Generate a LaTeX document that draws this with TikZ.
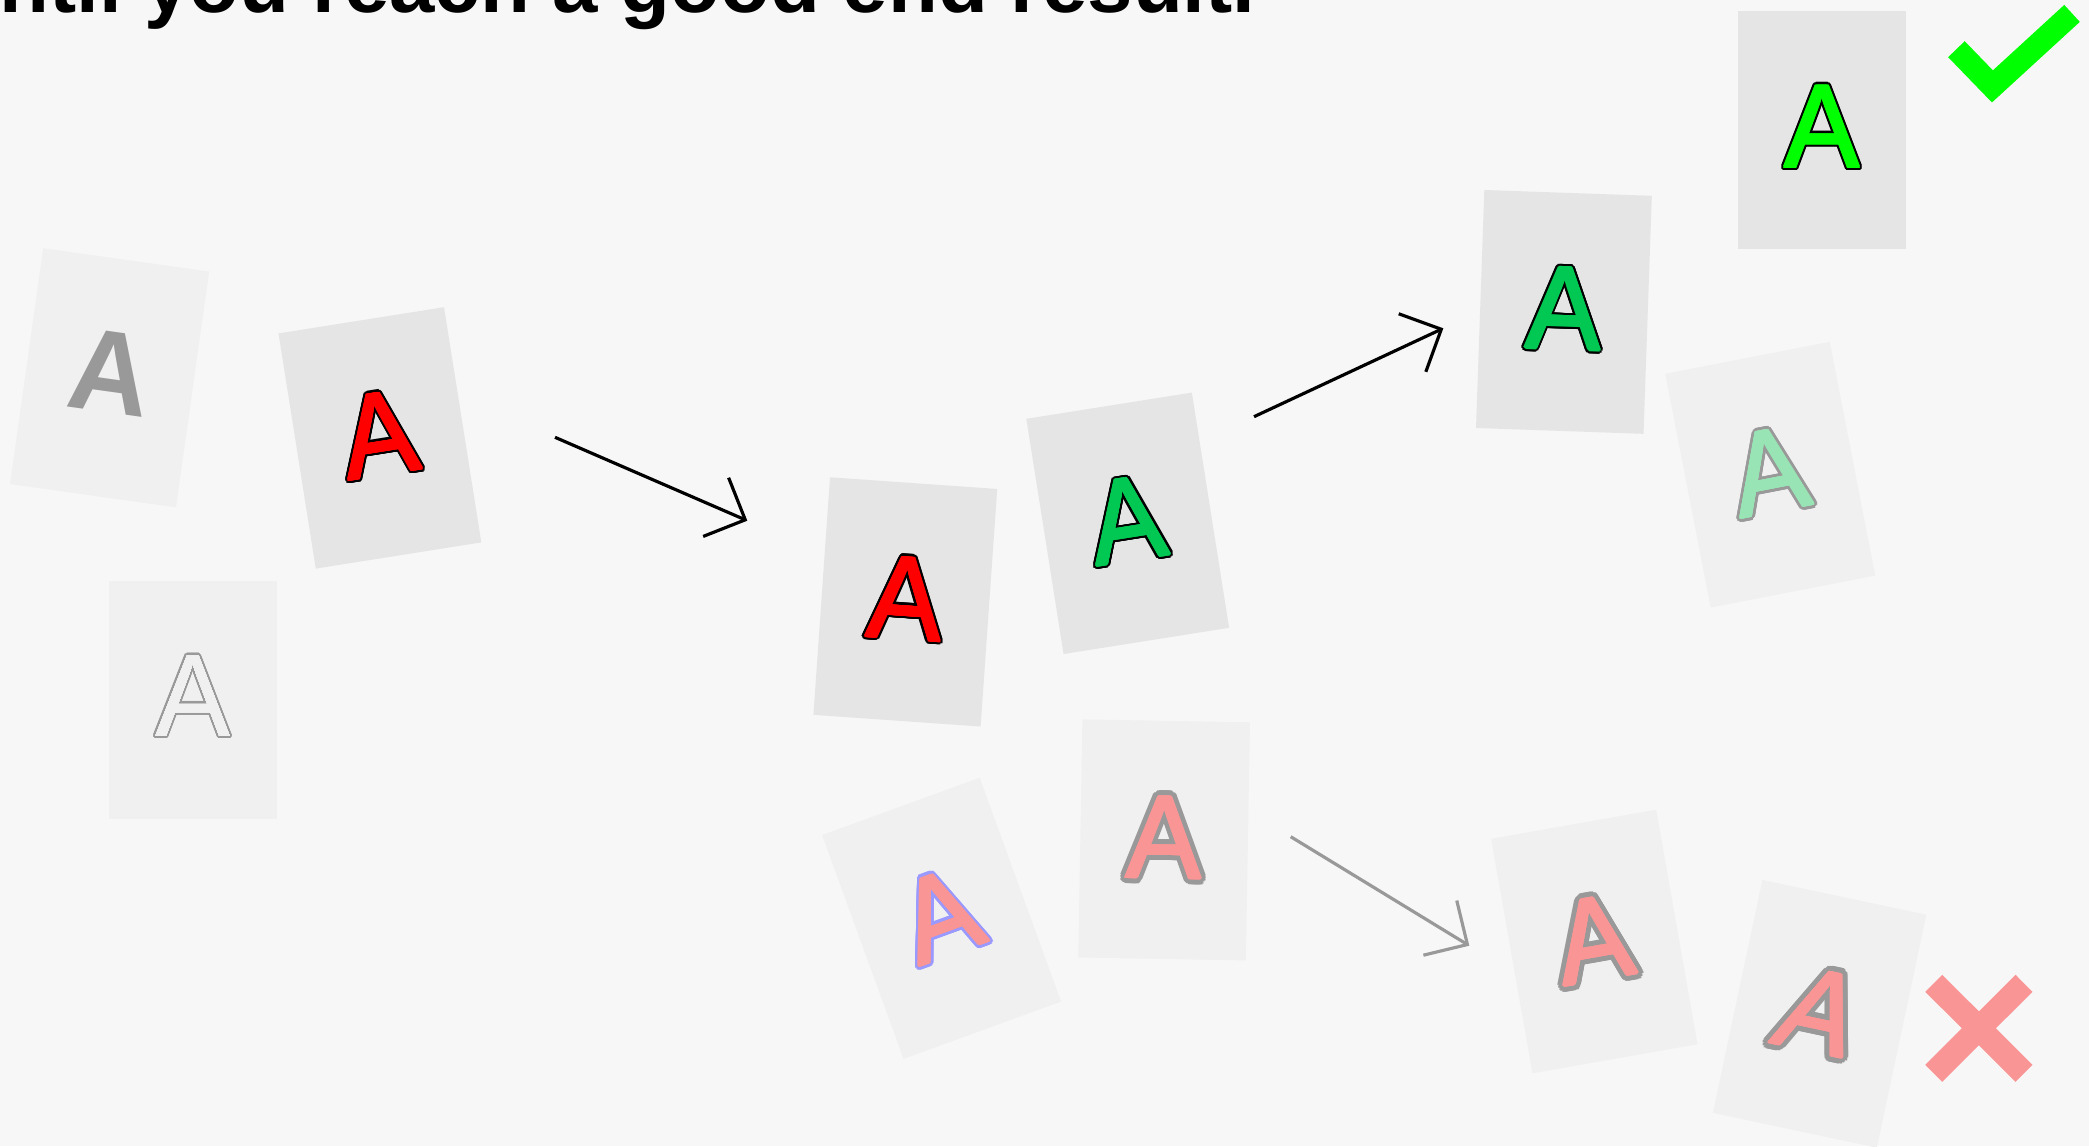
\documentclass[tikz,border=0pt]{standalone}
\usepackage{fontspec}
\setmainfont{Liberation Sans}
\usepackage{xcolor}
\usepackage{tikz}
\usetikzlibrary{arrows.meta}

\definecolor{bgc}{HTML}{F7F7F7}
\definecolor{carddark}{HTML}{E5E5E5}
\definecolor{cardlight}{HTML}{F0F0F0}
\definecolor{greyA}{HTML}{999999}
\definecolor{redA}{HTML}{FF0000}
\definecolor{greenA}{HTML}{00C853}
\definecolor{limeA}{HTML}{00FF00}
\definecolor{pinkA}{HTML}{F99595}
\definecolor{mintA}{HTML}{98E4B4}
\definecolor{blueA}{HTML}{9999FF}

% letter A with a ring round it: [thickening], ring colour, ring width, fill colour
\newcommand{\ringA}[4][0.35pt]{%
  \makebox[0pt][l]{\foreach \k in {0,15,...,345}{%
    \pgfmathsetlengthmacro{\rx}{(#1+#3)*cos(\k)}%
    \pgfmathsetlengthmacro{\ry}{(#1+#3)*sin(\k)}%
    \makebox[0pt][l]{\kern\rx\relax\raisebox{\ry}{\textcolor{#2}{A}}}}}%
  \makebox[0pt][l]{\foreach \k in {0,30,...,330}{%
    \pgfmathsetlengthmacro{\rx}{#1*cos(\k)}%
    \pgfmathsetlengthmacro{\ry}{#1*sin(\k)}%
    \makebox[0pt][l]{\kern\rx\relax\raisebox{\ry}{\textcolor{#4}{A}}}}}%
  \textcolor{#4}{A}}

\begin{document}
\begin{tikzpicture}[x=0.01cm, y=-0.01cm,
  card/.style={minimum width=1.675cm, minimum height=2.38cm, inner sep=0pt},
  glyph/.style={inner sep=0pt, text depth=0.1cm, font=\fontsize{32}{32}\selectfont},
  flow/.style={line width=0.9pt, -{Straight Barb[length=0.32cm, width=0.64cm, sharp]}}]
\path[use as bounding box, fill=bgc] (0,0) rectangle (2089,1146);
\clip (0,0) rectangle (2089,1146);

% heading, only its last line shows
\node[anchor=base east, inner sep=0pt, font=\fontsize{23.2}{28}\selectfont\bfseries] (title) at (1256,12.5) {until you reach a good end result.};

% cards
\node[card, fill=cardlight, rotate=-8] (c1) at (109.6,377.8) {};
\node[card, fill=carddark, rotate=9] (c2) at (379.9,437.9) {};
\node[card, fill=cardlight] (c3) at (193,700) {};
\node[card, fill=carddark, rotate=-4] (c4) at (905.3,601.9) {};
\node[card, fill=carddark, rotate=9] (c5) at (1127.7,523.3) {};
\node[card, fill=cardlight, rotate=20] (c6) at (941.6,918.3) {};
\node[card, fill=cardlight, rotate=-1] (c7) at (1164.1,839.9) {};
\node[card, fill=carddark] (c8) at (1821.9,130.3) {};
\node[card, fill=cardlight, rotate=11] (c9) at (1770.2,474.7) {};
\node[card, fill=carddark, rotate=-2] (c10) at (1563.9,311.9) {};
\node[card, fill=cardlight, rotate=10] (c11) at (1594.3,941.5) {};
\node[card, fill=cardlight, rotate=-12] (c12) at (1819.6,1013.8) {};

% letters
\node[glyph, rotate=-8, yscale=1.04, text=greyA] (a1) at (c1) {\bfseries A};
\node[glyph, rotate=9, yscale=1.05] (a2) at (c2) {\ringA{black}{0.6pt}{redA}};
\node[glyph, yscale=1.04] (a3) at (c3) {\ringA[0pt]{greyA}{0.6pt}{cardlight}};
\node[glyph, rotate=-4, yscale=1.05] (a4) at (c4) {\ringA{black}{0.6pt}{redA}};
\node[glyph, rotate=9, yscale=1.05] (a5) at (c5) {\ringA{black}{0.6pt}{greenA}};
\node[glyph, rotate=20, yscale=1.05] (a6) at (c6) {\ringA{blueA}{0.8pt}{pinkA}};
\node[glyph, rotate=-1, yscale=1.05] (a7) at (c7) {\ringA{greyA}{1.3pt}{pinkA}};
\node[glyph, yscale=1.05] (a8) at (c8) {\ringA{black}{0.6pt}{limeA}};
\node[glyph, rotate=11, yscale=1.05] (a9) at (c9) {\ringA{greyA}{0.7pt}{mintA}};
\node[glyph, rotate=-2, yscale=1.05] (a10) at (c10) {\ringA{black}{0.6pt}{greenA}};
\node[glyph, rotate=10, yscale=1.05] (a11) at (c11) {\ringA{greyA}{1.4pt}{pinkA}};
\node[glyph, rotate=-12, xslant=0.16, yscale=1.05] (a12) at (c12) {\ringA{greyA}{1.4pt}{pinkA}};

% arrows between the rounds
\coordinate (s1) at (555,437.3);
\coordinate (e1) at (747.3,520.7);
\coordinate (s2) at (1254,416.7);
\coordinate (e2) at (1443.3,328.3);
\coordinate (s3) at (1290.7,836.7);
\coordinate (e3) at (1469.3,945.7);
\draw[flow] (s1) -- (e1);
\draw[flow] (s2) -- (e2);
\draw[flow, greyA] (s3) -- (e3);

% tick and cross
\draw[limeA, line width=0.23cm, line cap=butt, line join=miter] (1956.4,49.2) -- (1992.4,86.4) -- (2072,13.4);
\draw[pinkA, line width=0.24cm, line cap=butt] (1933.7,983.3) -- (2024,1073.3) (2024,983.3) -- (1933.7,1073.3);
\end{tikzpicture}
\end{document}
